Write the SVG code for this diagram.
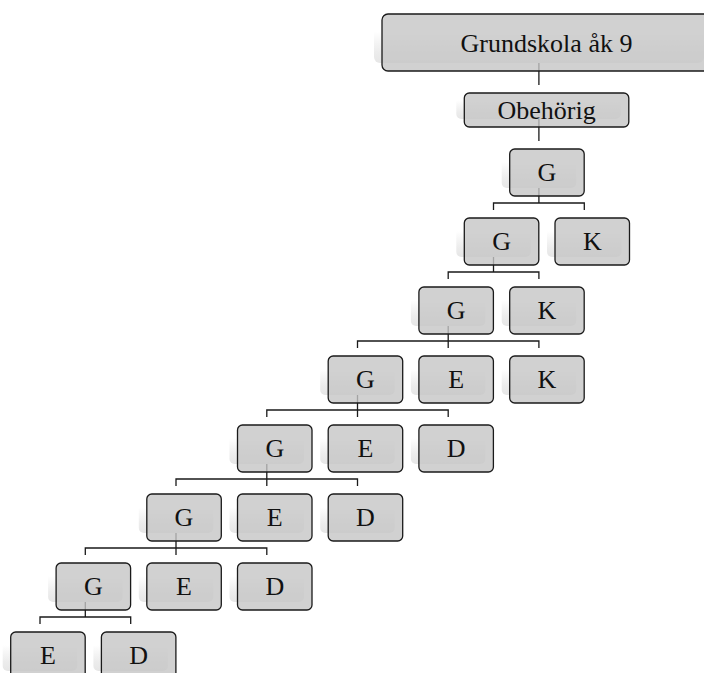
<svg xmlns="http://www.w3.org/2000/svg" width="704" height="673" viewBox="0 0 704 673" font-family="'Liberation Serif', 'Times New Roman', serif">
<defs>
<linearGradient id="sg" x1="0" y1="0" x2="0" y2="1">
<stop offset="0" stop-color="#e6e6e6" stop-opacity="0"/>
<stop offset="0.45" stop-color="#e6e6e6" stop-opacity="0"/>
<stop offset="0.8" stop-color="#e9e9e9" stop-opacity="0.85"/>
<stop offset="1" stop-color="#e6e6e6" stop-opacity="1"/>
</linearGradient>
<style>
.sh{fill:url(#sg);}
.bx{fill:#c6c6c6;fill-opacity:0.8;stroke:#1a1a1a;stroke-width:1.3;}
.t{font-family:'Liberation Serif','Times New Roman',serif;font-size:26px;fill:#111;text-anchor:middle;}
.c{fill:none;stroke:#1a1a1a;stroke-width:1.3;}
</style>
</defs>
<rect width="704" height="673" fill="#ffffff"/>

<g id="shadows">
<rect class="sh" x="374" y="6" width="330" height="57" rx="6"/>
<rect class="sh" x="456.3" y="85" width="164.5" height="34" rx="5"/>
<rect class="sh" x="501.7" y="141" width="74.5" height="47" rx="5"/>
<rect class="sh" x="456.3" y="210" width="74.5" height="47" rx="5"/>
<rect class="sh" x="547" y="210" width="74.5" height="47" rx="5"/>
<rect class="sh" x="410.9" y="279" width="74.5" height="47" rx="5"/>
<rect class="sh" x="501.7" y="279" width="74.5" height="47" rx="5"/>
<rect class="sh" x="320.2" y="348" width="74.5" height="47" rx="5"/>
<rect class="sh" x="410.9" y="348" width="74.5" height="47" rx="5"/>
<rect class="sh" x="501.7" y="348" width="74.5" height="47" rx="5"/>
<rect class="sh" x="229.5" y="417" width="74.5" height="47" rx="5"/>
<rect class="sh" x="320.2" y="417" width="74.5" height="47" rx="5"/>
<rect class="sh" x="410.9" y="417" width="74.5" height="47" rx="5"/>
<rect class="sh" x="138.8" y="486" width="74.5" height="47" rx="5"/>
<rect class="sh" x="229.5" y="486" width="74.5" height="47" rx="5"/>
<rect class="sh" x="320.2" y="486" width="74.5" height="47" rx="5"/>
<rect class="sh" x="48.1" y="555" width="74.5" height="47" rx="5"/>
<rect class="sh" x="138.8" y="555" width="74.5" height="47" rx="5"/>
<rect class="sh" x="229.5" y="555" width="74.5" height="47" rx="5"/>
<rect class="sh" x="2.7" y="624" width="74.5" height="47" rx="5"/>
<rect class="sh" x="93.4" y="624" width="74.5" height="47" rx="5"/>
</g>

<g id="connectors" class="c">
<path d="M538.9,63 V85"/>
<path d="M538.9,119 V141"/>
<path d="M538.9,188 V203 M493.5,210 V203 H584.3 V210"/>
<path d="M493.5,257 V272 M448.2,279 V272 H538.9 V279"/>
<path d="M448.2,326 V348 M357.5,348 V341 H538.9 V348"/>
<path d="M357.5,395 V417 M266.8,417 V410 H448.2 V417"/>
<path d="M266.8,464 V486 M176,486 V479 H357.5 V486"/>
<path d="M176,533 V555 M85.3,555 V548 H266.8 V555"/>
<path d="M85.3,602 V617 M40,624 V617 H130.7 V624"/>
</g>

<g id="n-grundskola"><rect class="bx" x="382" y="14" width="330" height="57" rx="6"/><text class="t" x="546.5" y="52" font-family="Liberation Serif, serif">Grundskola åk 9</text></g>
<g id="n-obehorig"><rect class="bx" x="464.3" y="93" width="164.5" height="34" rx="5"/><text class="t" x="546.6" y="119">Obehörig</text></g>

<g id="n-g1"><rect class="bx" x="509.7" y="149" width="74.5" height="47" rx="5"/><text class="t" x="546.9" y="181">G</text></g>

<g id="n-g2"><rect class="bx" x="464.3" y="218" width="74.5" height="47" rx="5"/><text class="t" x="501.6" y="250">G</text></g>
<g id="n-k2"><rect class="bx" x="555" y="218" width="74.5" height="47" rx="5"/><text class="t" x="592.3" y="250">K</text></g>

<g id="n-g3"><rect class="bx" x="418.9" y="287" width="74.5" height="47" rx="5"/><text class="t" x="456.2" y="319">G</text></g>
<g id="n-k3"><rect class="bx" x="509.7" y="287" width="74.5" height="47" rx="5"/><text class="t" x="546.9" y="319">K</text></g>

<g id="n-g4"><rect class="bx" x="328.2" y="356" width="74.5" height="47" rx="5"/><text class="t" x="365.5" y="388">G</text></g>
<g id="n-e4"><rect class="bx" x="418.9" y="356" width="74.5" height="47" rx="5"/><text class="t" x="456.2" y="388">E</text></g>
<g id="n-k4"><rect class="bx" x="509.7" y="356" width="74.5" height="47" rx="5"/><text class="t" x="546.9" y="388">K</text></g>

<g id="n-g5"><rect class="bx" x="237.5" y="425" width="74.5" height="47" rx="5"/><text class="t" x="274.8" y="457">G</text></g>
<g id="n-e5"><rect class="bx" x="328.2" y="425" width="74.5" height="47" rx="5"/><text class="t" x="365.5" y="457">E</text></g>
<g id="n-d5"><rect class="bx" x="418.9" y="425" width="74.5" height="47" rx="5"/><text class="t" x="456.2" y="457">D</text></g>

<g id="n-g6"><rect class="bx" x="146.8" y="494" width="74.5" height="47" rx="5"/><text class="t" x="184" y="526">G</text></g>
<g id="n-e6"><rect class="bx" x="237.5" y="494" width="74.5" height="47" rx="5"/><text class="t" x="274.8" y="526">E</text></g>
<g id="n-d6"><rect class="bx" x="328.2" y="494" width="74.5" height="47" rx="5"/><text class="t" x="365.5" y="526">D</text></g>

<g id="n-g7"><rect class="bx" x="56.1" y="563" width="74.5" height="47" rx="5"/><text class="t" x="93.3" y="595">G</text></g>
<g id="n-e7"><rect class="bx" x="146.8" y="563" width="74.5" height="47" rx="5"/><text class="t" x="184" y="595">E</text></g>
<g id="n-d7"><rect class="bx" x="237.5" y="563" width="74.5" height="47" rx="5"/><text class="t" x="274.8" y="595">D</text></g>

<g id="n-e8"><rect class="bx" x="10.7" y="632" width="74.5" height="47" rx="5"/><text class="t" x="48" y="664">E</text></g>
<g id="n-d8"><rect class="bx" x="101.4" y="632" width="74.5" height="47" rx="5"/><text class="t" x="138.7" y="664">D</text></g>
</svg>
